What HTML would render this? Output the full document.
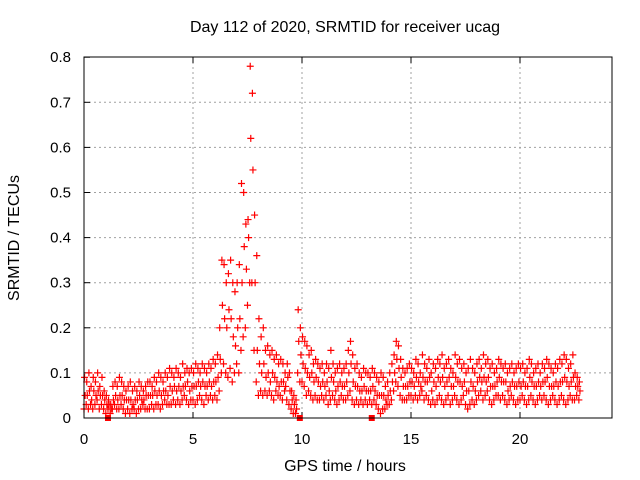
<!DOCTYPE html>
<html><head><meta charset="utf-8"><style>
html,body{margin:0;padding:0;background:#fff;width:640px;height:480px;overflow:hidden}
svg{display:block;font-family:"Liberation Sans",sans-serif}
</style></head><body>
<svg id="chart" width="640" height="480" viewBox="0 0 640 480">
<text x="345" y="32" font-size="16" text-anchor="middle">Day 112 of 2020, SRMTID for receiver ucag</text>
<text x="345" y="471" font-size="16" text-anchor="middle">GPS time / hours</text>
<text x="19" y="238" font-size="16" text-anchor="middle" transform="rotate(-90 19 238)">SRMTID / TECUs</text>
<g id="grid"></g><g id="ticks"></g><g id="marks"></g>
<rect x="84" y="57" width="528" height="361" fill="none" stroke="#000" stroke-width="1"/>
</svg>
<script>
const xTicks=[0,5,10,15,20];
const yTicks=[0,0.1,0.2,0.3,0.4,0.5,0.6,0.7,0.8];
const yTickLabels=["0","0.1","0.2","0.3","0.4","0.5","0.6","0.7","0.8"];
const timeStep=0.1;
const hiVals=[.09,.08,.1,.07,.09,.08,.1,.07,.09,.06,.05,.04,.03,.07,.08,.07,.09,.08,.07,.06,.07,.08,.06,.07,.06,.08,.07,.06,.07,.08,.08,.07,.09,.08,.1,.09,.08,.1,.09,.11,.1,.09,.11,.1,.09,.12,.1,.11,.1,.11,.1,.12,.11,.1,.12,.11,.1,.12,.11,.13,.12,.14,.2,.35,.34,.3,.32,.35,.3,.28,.3,.34,.52,.5,.43,.44,.78,.72,.45,.36,.22,.18,.2,.15,.16,.14,.15,.13,.14,.12,.13,.12,.1,.12,.1,.06,.05,.04,.24,.2,.18,.17,.16,.14,.15,.12,.13,.12,.11,.12,.1,.12,.11,.15,.12,.1,.11,.12,.1,.11,.12,.15,.17,.14,.11,.12,.1,.09,.11,.1,.1,.09,.11,.1,.09,.08,.1,.09,.07,.08,.1,.12,.14,.17,.16,.13,.11,.1,.11,.12,.11,.1,.13,.12,.1,.14,.12,.11,.13,.1,.12,.11,.13,.12,.14,.11,.12,.13,.11,.1,.14,.12,.13,.11,.12,.1,.11,.13,.11,.1,.12,.13,.11,.14,.12,.13,.11,.12,.1,.11,.13,.12,.11,.12,.1,.11,.12,.1,.11,.12,.11,.12,.1,.11,.13,.12,.1,.11,.12,.1,.12,.11,.13,.12,.11,.1,.12,.11,.13,.12,.14,.13,.11,.12,.14,.1,.09,.08];
const loVals=[.02,.03,.02,.03,.02,.03,.04,.02,.03,.02,.01,.02,.01,.02,.03,.02,.02,.03,.02,.01,.02,.01,.02,.02,.01,.02,.02,.03,.02,.02,.02,.03,.02,.03,.03,.02,.03,.04,.03,.03,.03,.04,.03,.04,.03,.04,.05,.04,.03,.04,.04,.03,.04,.05,.04,.03,.05,.04,.05,.04,.05,.04,.06,.1,.12,.1,.09,.11,.08,.1,.12,.1,.15,.18,.2,.25,.3,.3,.15,.08,.05,.06,.05,.06,.05,.06,.05,.04,.06,.05,.05,.04,.06,.04,.03,.02,.01,.01,.1,.08,.08,.07,.05,.06,.05,.04,.05,.04,.04,.05,.04,.05,.03,.04,.05,.04,.03,.04,.05,.04,.04,.05,.06,.04,.03,.04,.03,.04,.03,.04,.03,.04,.03,.04,.03,.02,.01,.02,.02,.03,.03,.04,.06,.08,.07,.05,.04,.04,.04,.05,.05,.04,.05,.04,.05,.06,.04,.05,.04,.03,.04,.03,.04,.05,.04,.03,.04,.05,.03,.04,.05,.04,.03,.04,.05,.03,.02,.03,.04,.03,.04,.05,.06,.04,.05,.06,.04,.03,.04,.05,.05,.04,.05,.04,.03,.04,.05,.04,.03,.04,.04,.05,.04,.03,.04,.05,.04,.03,.04,.05,.04,.05,.04,.03,.04,.05,.04,.03,.04,.05,.04,.03,.04,.05,.04,.04,.05,.04];
const midVals=[.05,.05,.06,.04,.06,.05,.06,.05,.05,.04,.03,.03,.02,.04,.05,.04,.05,.05,.04,.04,.04,.04,.03,.04,.04,.05,.04,.04,.05,.05,.05,.05,.06,.05,.06,.05,.06,.06,.05,.07,.06,.07,.06,.07,.06,.07,.07,.08,.06,.07,.07,.07,.08,.07,.08,.07,.07,.08,.07,.08,.08,.09,.13,.25,.22,.2,.24,.22,.18,.16,.2,.22,.3,.38,.33,.4,.62,.55,.3,.15,.12,.1,.12,.09,.1,.08,.1,.09,.08,.07,.08,.08,.07,.09,.06,.04,.03,.02,.17,.14,.12,.11,.1,.09,.1,.08,.09,.08,.07,.08,.07,.08,.06,.09,.08,.06,.07,.08,.07,.07,.08,.1,.12,.08,.07,.07,.06,.06,.07,.06,.06,.06,.07,.06,.05,.05,.05,.05,.04,.05,.06,.08,.1,.13,.11,.09,.07,.07,.07,.08,.08,.07,.09,.08,.07,.09,.08,.08,.09,.06,.08,.07,.09,.08,.09,.07,.08,.09,.07,.07,.09,.08,.08,.07,.08,.06,.06,.08,.07,.06,.08,.09,.08,.09,.08,.09,.07,.07,.07,.08,.09,.08,.08,.08,.06,.07,.08,.07,.07,.08,.07,.08,.07,.07,.09,.08,.07,.07,.08,.07,.08,.08,.09,.07,.07,.07,.08,.07,.08,.08,.09,.08,.07,.08,.09,.07,.07,.06];
const gapTimes=[1.1,9.9,13.2];
const NS='http://www.w3.org/2000/svg';
const X0=84,Y0=418,XS=21.8,YS=451;
function xp(t){return X0+t*XS;}
function yp(v){return Y0-v*YS;}
function mk(tag,attrs){const e=document.createElementNS(NS,tag);for(const k in attrs)e.setAttribute(k,attrs[k]);return e;}
const grid=document.getElementById('grid'),ticks=document.getElementById('ticks'),marks=document.getElementById('marks');
xTicks.forEach(t=>{
  const x=xp(t);
  if(t>0){const g=mk('line',{x1:x,y1:57,x2:x,y2:418,stroke:'#a0a0a0','stroke-dasharray':'2,3'});
  
  
  grid.appendChild(g);}
  const tk=mk('line',{x1:x,y1:418,x2:x,y2:412,stroke:'#000'});
  
  
  ticks.appendChild(tk);
  const tk2=mk('line',{x1:x,y1:57,x2:x,y2:63,stroke:'#000'});
  
  
  ticks.appendChild(tk2);
  const l=mk('text',{x:x,y:444,'font-size':15,'text-anchor':'middle'});
  l.textContent=String(t);
  
  
  ticks.appendChild(l);
});
yTicks.forEach((v,i)=>{
  const y=yp(v);
  if(v>0&&v<0.8){const g=mk('line',{x1:84,y1:y,x2:612,y2:y,stroke:'#a0a0a0','stroke-dasharray':'2,3'});
  
  
  grid.appendChild(g);}
  const tk=mk('line',{x1:84,y1:y,x2:90,y2:y,stroke:'#000'});
  
  
  ticks.appendChild(tk);
  const l=mk('text',{x:71,y:y+5,'font-size':15,'text-anchor':'end'});
  l.textContent=yTickLabels[i];
  
  
  ticks.appendChild(l);
});
function plus(t,v,col){
  const x=xp(t),y=yp(v);
  const p=mk('path',{d:`M${x-3.5},${y}h7M${x},${y-3.5}v7`,stroke:col,'stroke-width':1.2,fill:'none'});
  
  
  marks.appendChild(p);
}
loVals.forEach((v,i)=>plus(i*timeStep,v,'#ff0000'));
midVals.forEach((v,i)=>plus(i*timeStep+0.05,v,'#ff0000'));
hiVals.forEach((v,i)=>plus(i*timeStep+0.025,v,'#ff0000'));
gapTimes.forEach(t=>{
  const s=mk('rect',{x:xp(t)-3,y:415,width:6,height:6,fill:'#ff0000'});
  
  
  marks.appendChild(s);
});
</script>
</body></html>
